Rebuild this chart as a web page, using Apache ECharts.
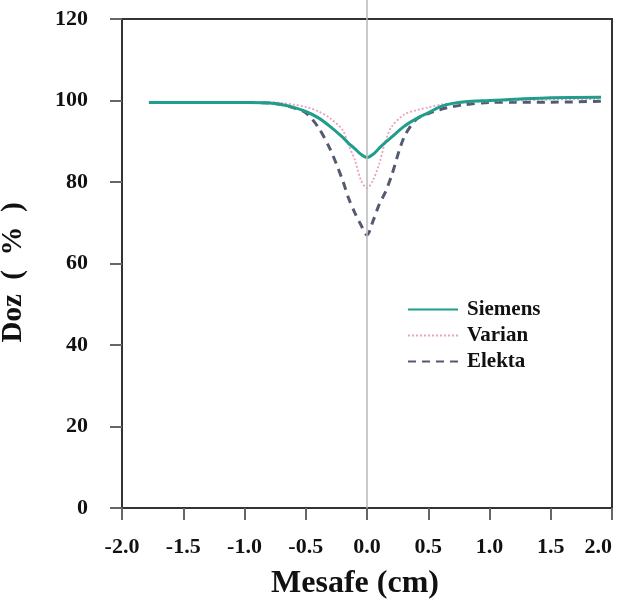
<!DOCTYPE html>
<html><head><meta charset="utf-8">
<script src="https://cdn.jsdelivr.net/npm/echarts@6/dist/echarts.min.js"></script>
<style>html,body{margin:0;padding:0;background:#fff}#c{width:617px;height:604px}</style>
</head><body><div id="c"></div>
<script>
const xs =      [-1.78,-1.5,-1.2,-1.0,-0.8,-0.7,-0.6,-0.5,-0.4,-0.3,-0.2,-0.15,-0.1,-0.05,0,0.05,0.1,0.15,0.2,0.3,0.4,0.5,0.6,0.7,0.8,1.0,1.2,1.5,1.91];
const siemens = [99.5,99.5,99.5,99.5,99.4,99.0,98.3,97.3,95.8,93.6,91.0,89.5,88.2,86.8,86.0,86.8,88.3,89.7,91.0,93.6,95.5,97.0,98.5,99.3,99.7,100.0,100.3,100.7,100.8];
const varian =  [99.6,99.6,99.6,99.6,99.6,99.4,99.0,98.4,97.4,95.6,92.8,89.0,85.5,80.5,78.5,80.5,84.5,90.0,93.5,96.5,97.6,98.3,99.0,99.3,99.5,99.8,100.0,100.2,100.4];
const elekta =  [99.5,99.5,99.5,99.5,99.4,99.0,98.2,97.0,93.5,88.0,80.5,76.0,72.5,69.5,67.0,70.5,74.5,77.5,81.5,90.8,95.3,96.8,97.8,98.5,99.0,99.5,99.6,99.6,99.8];
const xTicks = {min:-2, max:2, step:0.5};
const yTicks = {min:0, max:120, step:20};
const names = ['Siemens','Varian','Elekta'];

const pair = arr => xs.map((x,i)=>[x,arr[i]]);
const font = '"Liberation Serif","Times New Roman",serif';
const chart = echarts.init(document.getElementById('c'), null, {renderer:'canvas'});
chart.setOption({
  animation:false,
  backgroundColor:'#fff',
  grid:{left:122,right:5,top:19,bottom:96,outerBoundsMode:'none',containLabel:false,show:true,borderColor:'#333',borderWidth:2},
  legend:{
    data:names, orient:'vertical', left:402, top:294, itemGap:5, itemWidth:50, itemHeight:14,
    itemStyle:{opacity:0},
    textStyle:{fontFamily:font,fontWeight:'bold',fontSize:21,color:'#111',padding:[0,0,0,4]}
  },
  xAxis:{
    type:'value', min:xTicks.min, max:xTicks.max, interval:xTicks.step,
    name:'Mesafe (cm)', nameLocation:'middle', nameGap:60,
    nameTextStyle:{fontFamily:font,fontWeight:'bold',fontSize:32,color:'#111',padding:[0,24,0,0]},
    axisLine:{show:true,onZero:false,lineStyle:{color:'#333',width:2}},
    axisTick:{show:true,length:12,lineStyle:{color:'#666',width:2}},
    axisLabel:{margin:28,fontFamily:font,fontWeight:'bold',fontSize:22,color:'#111',alignMaxLabel:'right',
      formatter:v=>v.toFixed(1)},
    splitLine:{show:false}
  },
  yAxis:{
    type:'value', min:yTicks.min, max:yTicks.max, interval:yTicks.step,
    name:'Doz  (  %  )', nameLocation:'middle', nameGap:94,
    nameTextStyle:{fontFamily:font,fontWeight:'bold',fontSize:29,color:'#111',padding:[0,18,0,0]},
    axisLine:{show:true,onZero:false,lineStyle:{color:'#333',width:2}},
    axisTick:{show:true,length:12,lineStyle:{color:'#666',width:2}},
    axisLabel:{margin:34,fontFamily:font,fontWeight:'bold',fontSize:22,color:'#111'},
    splitLine:{show:false}
  },
  series:[
    {name:'Siemens',type:'line',data:pair(siemens),smooth:0.3,showSymbol:false,symbol:'none',
     lineStyle:{color:'#1f9e8c',width:3},itemStyle:{color:'#1f9e8c'},z:4,
     markLine:{silent:true,symbol:'none',label:{show:false},lineStyle:{color:'#b8b8b8',width:1.5,type:'solid'},data:[{xAxis:0}]}},
    {name:'Varian',type:'line',data:pair(varian),smooth:0.3,showSymbol:false,symbol:'none',
     lineStyle:{color:'#e8a3bd',width:1.8,type:[2,2]},itemStyle:{color:'#e8a3bd'},z:3},
    {name:'Elekta',type:'line',data:pair(elekta),smooth:0.3,showSymbol:false,symbol:'none',
     lineStyle:{color:'#535a72',width:3,type:[8,6]},itemStyle:{color:'#535a72'},z:2}
  ]
});
// extend the zero reference line above the plot frame, as in the original
const p0 = chart.convertToPixel({xAxisIndex:0,yAxisIndex:0},[0,yTicks.max]);
chart.setOption({graphic:[{type:'line',silent:true,z:1,
  shape:{x1:p0[0],y1:0,x2:p0[0],y2:p0[1]},style:{stroke:'#b8b8b8',lineWidth:1.5}}]});
</script></body></html>
